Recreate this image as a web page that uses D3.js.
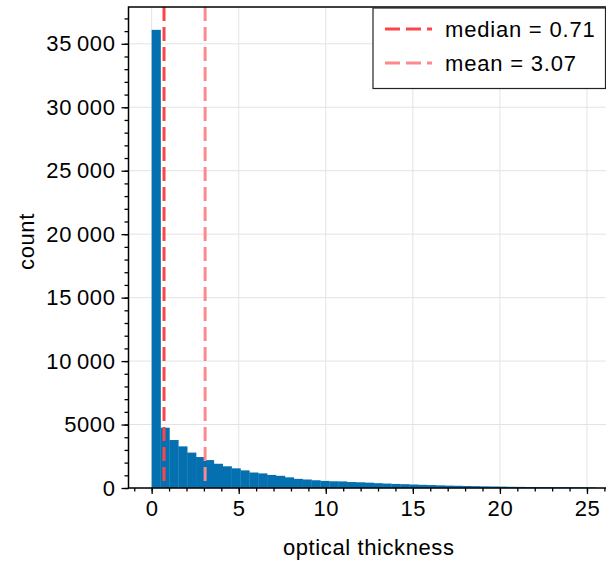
<!DOCTYPE html>
<html>
<head>
<meta charset="utf-8">
<script src="https://cdn.jsdelivr.net/npm/d3@7"></script>
<style>
  body { margin: 0; background: #fff; }
  svg { display: block; font-family: "Liberation Sans", Arial, sans-serif; }
  .tick text { font-size: 22px; fill: #000; letter-spacing: 0.6px; }
</style>
</head>
<body>
<script>
var width = 606, height = 561;

// histogram of optical thickness, bins of equal width starting at 0
var binWidth = 0.51;
var counts = [36100, 4750, 3780, 3280, 2790, 2440, 2200, 1910, 1710, 1550,
              1390, 1220, 1150, 1030, 960, 840, 720, 670, 610, 560,
              530, 520, 470, 450, 420, 380, 350, 320, 300, 275,
              250, 230, 210, 190, 175, 160, 145, 130, 120, 110,
              95, 88, 80, 74, 68, 62, 57, 52, 48, 44];
var stats = [{label: "median = 0.71", value: 0.71, color: "#fa4649"},
             {label: "mean = 3.07", value: 3.07, color: "#fb8a8d"}];
var xTicks = [0, 5, 10, 15, 20, 25];
var yTicks = [0, 5000, 10000, 15000, 20000, 25000, 30000, 35000];

var pl = 128.5, pr = 607, pt = 7, pb = 488;

var x = d3.scaleLinear().domain([-1.33, 26.15]).range([pl, pr]);
var y = d3.scaleLinear().domain([0, 37900]).range([pb, pt]);

var svg = d3.select("body").append("svg")
            .attr("width", width).attr("height", height);

// grid
svg.append("g").selectAll("line").data(xTicks).enter().append("line")
   .attr("x1", function(d){ return x(d); }).attr("x2", function(d){ return x(d); })
   .attr("y1", pt).attr("y2", pb)
   .attr("stroke", "#e3e3e3").attr("stroke-width", 1);
svg.append("g").selectAll("line").data(yTicks).enter().append("line")
   .attr("y1", function(d){ return y(d); }).attr("y2", function(d){ return y(d); })
   .attr("x1", pl).attr("x2", pr)
   .attr("stroke", "#e3e3e3").attr("stroke-width", 1);

// bars
svg.append("g").selectAll("rect").data(counts).enter().append("rect")
   .attr("x", function(d, i){ return x(i * binWidth); })
   .attr("width", function(d, i){ return x((i + 1) * binWidth) - x(i * binWidth) + 0.3; })
   .attr("y", function(d){ return y(d); })
   .attr("height", function(d){ return pb - y(d); })
   .attr("fill", "#0570b0");

// median / mean lines
svg.append("g").selectAll("line").data(stats).enter().append("line")
   .attr("x1", function(d){ return x(d.value); }).attr("x2", function(d){ return x(d.value); })
   .attr("y1", pt).attr("y2", pb)
   .attr("stroke", function(d){ return d.color; })
   .attr("stroke-width", 3)
   .attr("stroke-dasharray", "14,6");

// axes
var thinGroup = function(v){
  var s = String(v);
  return v >= 10000 ? s.slice(0, s.length - 3) + "\u2009" + s.slice(-3) : s;
};

var xAxis = svg.append("g").attr("transform", "translate(0," + pb + ")")
   .call(d3.axisBottom(x).tickValues(xTicks).tickSize(6).tickPadding(6).tickFormat(d3.format("d")));
svg.append("g").attr("transform", "translate(0," + pb + ")")
   .call(d3.axisBottom(x).tickValues(d3.range(-1, 27)).tickSize(3.5).tickFormat(""));

var yAxis = svg.append("g").attr("transform", "translate(" + pl + ",0)")
   .call(d3.axisLeft(y).tickValues(yTicks).tickSize(7).tickPadding(6).tickFormat(thinGroup));
svg.append("g").attr("transform", "translate(" + pl + ",0)")
   .call(d3.axisLeft(y).tickValues(d3.range(0, 38000, 1000)).tickSize(4).tickFormat(""));

svg.selectAll(".domain").remove();
svg.selectAll(".tick line").attr("stroke", "#000").attr("stroke-width", 1.3);
xAxis.selectAll("text").attr("dy", "0.72em");

// frame
svg.append("rect").attr("x", pl).attr("y", pt)
   .attr("width", pr - pl).attr("height", pb - pt)
   .attr("fill", "none").attr("stroke", "#000").attr("stroke-width", 1.5);

// labels
svg.append("text").attr("x", (pl + pr) / 2 + 1).attr("y", 555)
   .attr("text-anchor", "middle").attr("font-size", 22).attr("letter-spacing", 0.6)
   .text("optical thickness");
svg.append("text").attr("transform", "translate(34," + ((pt + pb) / 2 - 6) + ") rotate(-90)")
   .attr("text-anchor", "middle").attr("font-size", 22).attr("letter-spacing", 0.6)
   .text("count");

// legend
var legend = svg.append("g").attr("transform", "translate(373,8)");
legend.append("rect").attr("width", 232.5).attr("height", 80.5)
      .attr("fill", "#fff").attr("stroke", "#222").attr("stroke-width", 1.2);
var items = legend.selectAll(".legends").data(stats).enter().append("g")
      .classed("legends", true)
      .attr("transform", function(d, i){ return "translate(0," + (21 + i * 34) + ")"; });
items.append("line").attr("x1", 12).attr("x2", 59).attr("y1", 0).attr("y2", 0)
     .attr("stroke", function(d){ return d.color; })
     .attr("stroke-width", 3).attr("stroke-dasharray", "15,6");
items.append("text").attr("x", 72).attr("y", 8)
     .attr("font-size", 22).attr("letter-spacing", 0.8)
     .text(function(d){ return d.label; });
</script>
</body>
</html>
